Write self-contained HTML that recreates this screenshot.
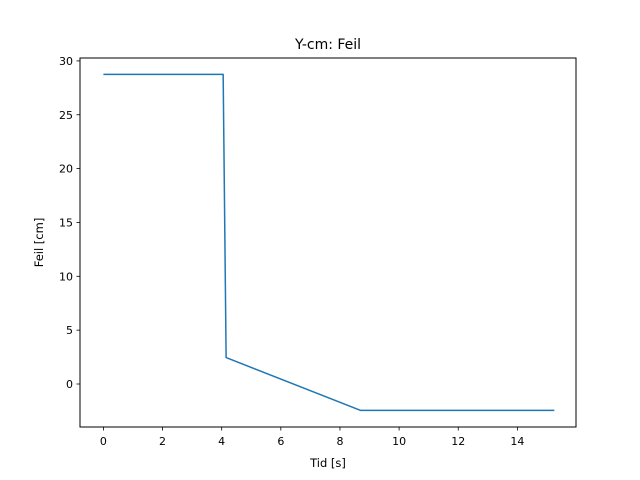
<!DOCTYPE html>
<html><head><meta charset="utf-8"><style>
html,body{margin:0;padding:0;background:#fff;}
svg{display:block;font-family:"DejaVu Sans","Liberation Sans",sans-serif;}
</style></head><body>
<svg id="chart" width="640" height="480">
<rect x="0" y="0" width="640" height="480" fill="#fff"/>
<text x="328" y="49" font-size="14" text-anchor="middle">Y-cm: Feil</text>
<text x="328" y="467" font-size="11.5" text-anchor="middle">Tid [s]</text>
<text transform="translate(43,242.5) rotate(-90)" font-size="11.5" text-anchor="middle">Feil [cm]</text>
<g id="xticks"></g>
<g id="yticks"></g>
<g id="series"></g>
<rect x="80" y="58" width="496" height="369" fill="none" stroke="#000" stroke-width="1"/>
</svg>
<script>
const xValues = [0, 4.05, 4.15, 8.7, 15.25];
const yValues = [28.75, 28.75, 2.45, -2.45, -2.45];
const xTickLabels = [0, 2, 4, 6, 8, 10, 12, 14];
const yTickLabels = [0, 5, 10, 15, 20, 25, 30];

const NS = "http://www.w3.org/2000/svg";
function sx(v){ return 103.4 + v * 29.57; }
function sy(v){ return 384 - v * 10.77; }
function mk(tag, attrs, parent){
  const e = document.createElementNS(NS, tag);
  for (const k in attrs) e.setAttribute(k, attrs[k]);
  parent.appendChild(e);
  return e;
}
const xg = document.getElementById('xticks');
xTickLabels.forEach(v => {
  const x = sx(v);
  const t = mk('line', {x1:x, x2:x, y1:427, y2:430.5, stroke:'#000', 'stroke-width':0.8}, xg);
  
  
  const l = mk('text', {x:x, y:445, 'font-size':11, 'text-anchor':'middle'}, xg);
  l.textContent = v;
  
  
});
const yg = document.getElementById('yticks');
yTickLabels.forEach(v => {
  const y = sy(v);
  const t = mk('line', {x1:76.5, x2:80, y1:y, y2:y, stroke:'#000', 'stroke-width':0.8}, yg);
  
  
  const l = mk('text', {x:73, y:y + 4, 'font-size':11, 'text-anchor':'end'}, yg);
  l.textContent = v;
  
  
});
const sg = document.getElementById('series');
const pts = xValues.map((x, i) => sx(x).toFixed(2) + ',' + sy(yValues[i]).toFixed(2)).join(' ');
const line = mk('polyline', {points:pts, fill:'none', stroke:'#1f77b4', 'stroke-width':1.5, 'stroke-linejoin':'round'}, sg);


</script>
</body></html>
